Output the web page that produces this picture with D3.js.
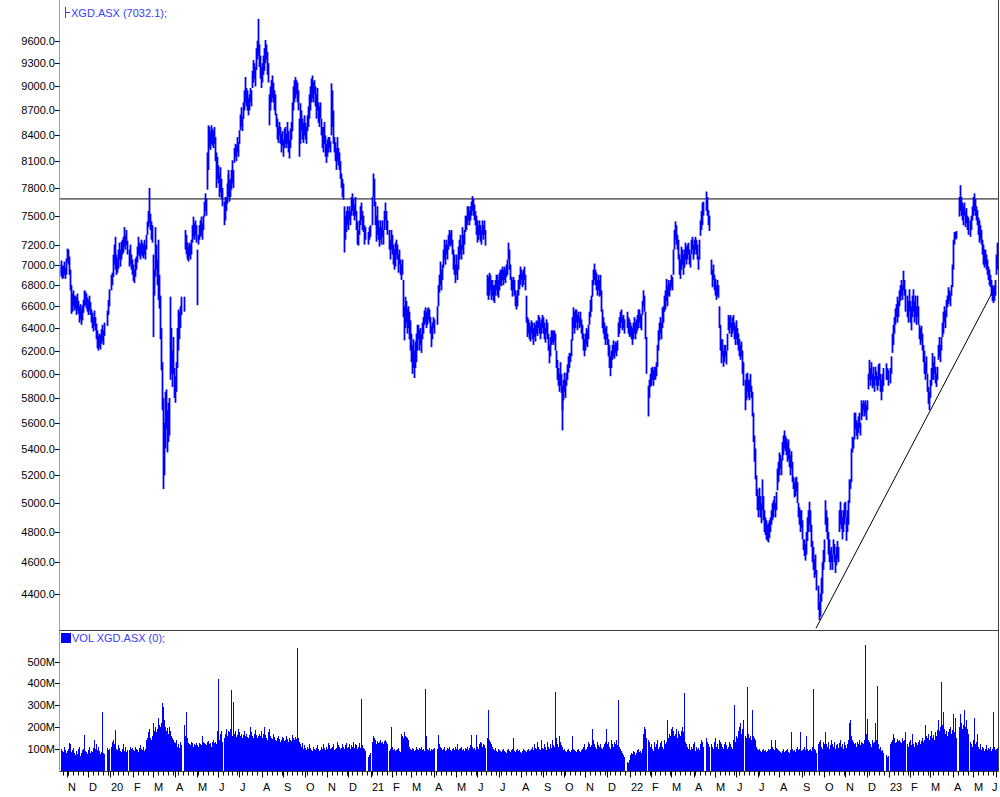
<!DOCTYPE html>
<html><head><meta charset="utf-8">
<script src="https://cdn.jsdelivr.net/npm/d3@7/dist/d3.min.js"></script>
<style>
body{margin:0;background:#fff;}
svg text{font-family:"Liberation Sans",Arial,sans-serif;}
</style></head>
<body><svg id="chart" width="1000" height="797"></svg>
<script>
// ---------- DATA ----------
const firstDay = "2019-10-23";   // first weekday on the time axis
const lastDay  = "2023-06-02";   // last weekday on the time axis
const symbol = "XGD.ASX";
const lastClose = 7032.1;

// daily low / high (null = market holiday), one entry per weekday
const priceLow = [
6880,6900,6860,6870,6900,6860,6900,7030,7000,6900,
6750,6530,6550,6600,6560,6580,6520,6560,6530,6450,
6480,6430,6470,6540,6600,6610,6580,6550,6520,6560,
6520,6450,6400,6370,6420,6380,6300,6220,6200,6230,
6210,6260,6280,6250,6330,null,null,6420,6520,6600,
null,6750,6800,6880,7000,6950,6900,6920,6960,7050,
6980,7050,7100,7120,7180,7150,7200,7100,null,6980,
7000,6950,6900,6840,6820,6880,6950,7020,7100,7080,
7050,7100,7080,7060,7100,7050,7150,7300,7380,7420,
7350,7250,7220,6320,6700,6880,6950,6800,6660,6580,
6300,6030,5700,5100,5200,5400,5550,5370,5450,5500,
5950,6000,5890,6000,5800,5760,5850,6050,6200,6300,
6400,6520,null,null,6550,7150,7100,7050,7030,7080,
7050,7100,7220,7280,7250,7300,7220,6610,7200,7250,
7280,7300,7250,7350,7490,7550,7500,7780,8000,8250,
8230,8300,8280,8250,8300,8100,7800,7900,7850,7700,
7750,7680,7600,null,7400,7450,7550,7630,7700,7750,
7650,7700,7780,7850,7800,8080,8150,8100,8200,8150,
8300,8460,8500,8450,8600,8700,8800,8750,8700,8640,
8700,8800,8750,8980,9050,9100,9000,9210,9350,9400,
9250,9100,8980,9050,9150,9200,9300,9350,9150,9050,
8520,8700,8800,8850,8800,8700,8640,8500,8350,8310,
8400,8300,8200,8280,8150,8250,8300,8250,8300,8200,
8130,8250,8350,8450,8700,8800,8850,8900,8800,8700,
8150,8300,8450,8350,8310,8400,8350,8300,8450,8500,
8600,8700,8800,8850,8800,8900,8750,8600,8700,8550,
8500,8600,8400,8250,8200,8300,8150,8080,8150,8200,
8250,8200,8400,8500,8300,8200,8100,8000,8100,8050,
8000,7900,7800,7700,7670,7120,7250,7330,7400,7350,
7450,7400,7500,7550,7500,7450,7500,7350,7200,7190,
7300,7400,7450,7350,7330,7200,7250,null,null,7200,
7250,7280,null,7400,7700,7600,7400,7230,7300,7250,
7180,7250,7200,7280,7200,7350,7450,7350,7300,null,
7150,7050,7150,7100,7000,6950,7050,6980,7100,7050,
6920,7000,6900,6850,6900,6500,6290,6400,6450,6350,
6400,6300,6200,6100,6000,6050,5965,6050,6100,6200,
6300,6200,6250,6180,6300,6350,6430,6450,6400,6430,
6480,6450,6350,6230,6300,6400,6350,null,null,6430,
6600,6730,6800,6750,6850,6970,7050,7000,7100,7050,
7150,7200,7180,7200,7100,6950,6900,6820,6900,6850,
6950,7050,7100,7050,7150,7100,7200,7330,7350,7400,
7450,7400,7450,7500,7550,7500,7450,7400,7300,7220,
7250,7300,7230,7200,7300,7250,7300,7190,null,6700,
6660,6700,6750,6660,6700,6650,6630,6700,6750,6700,
6680,6750,6800,6790,6850,6800,6850,6820,6880,6900,
7050,6950,6850,6750,6690,6750,6700,6600,6570,6600,
6700,6760,6800,6850,6780,6800,6850,6750,6450,6320,
6350,6300,6280,6350,6300,6250,6320,6280,6350,6330,
6400,6350,6300,6350,6400,6350,6300,6270,6350,6300,
6200,6090,6150,6250,6270,6250,6280,6200,6050,5950,
5900,5850,5900,5840,5700,5540,5780,5850,5800,5900,
5950,6010,6050,6100,6150,6290,6400,6350,6400,6450,
6380,6450,6400,6420,6350,6300,6200,6150,6200,6250,
6230,6300,6430,6500,6550,6690,6800,6850,6800,6750,
6700,6750,6690,6700,6550,6400,6350,6300,6250,6300,
6250,6150,6050,5980,6050,6120,6150,6130,6180,6150,
6200,6320,6350,6400,6450,6380,6400,6350,null,null,
6400,6350,6320,6330,6300,6250,6300,6350,6300,6350,
6380,6400,6450,6400,6380,6520,6600,6550,6300,6000,
null,5650,5800,5890,5900,5950,5900,5950,5950,5980,
6060,6200,6290,6350,6300,6400,6450,6550,6570,6650,
6600,6700,6690,6750,6780,6750,6900,7150,7250,7200,
7150,7050,6900,6860,6950,7000,6900,6970,7050,7000,
7050,7100,7000,6970,7100,7150,7050,7100,7150,7100,
7050,6950,7050,7290,7350,7400,7500,null,null,7550,
7500,7400,7340,null,6900,6780,6850,6750,6700,6660,
6700,6680,6400,6200,6090,6150,6060,6100,6150,6080,
6200,6380,6400,6350,6400,6320,6350,6380,6300,6250,
6300,6250,6200,6150,6120,6150,6000,5900,null,5700,
5780,5850,5800,5780,5850,5800,5650,5450,5300,5170,
5050,4950,4900,4950,4900,4860,4950,4880,4800,4780,
4750,4740,4730,4760,4800,4850,4880,4900,4950,4900,
4950,5090,5150,5200,5250,5200,5310,5350,5400,5380,
5350,5300,5320,5260,5200,5250,5150,5100,5040,5050,
5080,5000,4900,4850,4800,4830,4750,4680,4640,4610,
4650,4740,4800,4850,4800,4700,4600,4550,4500,4520,
4420,null,4300,4240,4260,4350,4400,4550,4600,4850,
4800,4750,4650,4600,4550,4600,4550,4650,4600,4530,
4580,4620,4600,4800,4850,4820,4750,4800,4850,4900,
4740,4800,4850,5000,5100,5150,5370,5400,5470,5550,
5500,5470,5520,5560,5500,5620,5650,5700,5650,5680,
5620,5700,5870,5950,5900,5950,5880,5900,5850,5950,
5900,5860,5900,5950,5850,5780,5850,5900,null,null,
5950,5950,5900,null,5920,6000,6180,6250,6350,6430,
6500,6450,6550,6500,6600,6650,6700,6660,6750,6700,
6550,null,6500,6450,6550,6450,6380,6500,6550,6450,
6500,6430,6500,6430,6300,6250,6280,6200,6100,6000,
5950,6000,5850,5750,5700,5800,5900,5950,5950,6000,
5920,5890,5950,6120,6150,6100,6200,6320,6350,6450,
6400,6500,6590,6620,6650,6600,6700,6780,6950,7200,
7250,7260,null,null,7490,7550,7500,7450,7400,7500,
7380,7420,7350,7300,null,7280,7350,7450,7500,7550,
7500,7450,7400,7300,7220,7250,7200,7100,7000,6970,
7000,6950,6900,6850,6800,6780,6700,6650,6630,6650,
6700,6900,6950];

const priceHigh = [
7000,7040,6980,6990,7030,6970,7060,7160,7150,7080,
6950,6800,6720,6750,6700,6700,6680,6720,6650,6600,
6620,6580,6610,6660,6750,6740,6720,6680,6660,6700,
6640,6570,6540,6500,6560,6500,6440,6380,6330,6350,
6340,6390,6430,6380,6450,null,null,6560,6660,6760,
null,6900,6920,7100,7200,7280,7100,7060,7150,7220,
7150,7230,7250,7280,7380,7300,7350,7240,null,7150,
7200,7100,7050,7000,6950,7060,7080,7180,7280,7220,
7200,7250,7220,7200,7250,7200,7300,7440,7550,7800,
7520,7440,7400,7100,6950,7380,7200,7050,7250,6900,
6700,6400,6100,5800,5600,5850,5870,5700,5760,5800,
6690,6400,6200,6320,6050,5980,6100,6400,6570,6550,
6600,6690,null,null,6690,7350,7300,7220,7180,7220,
7200,7250,7400,7490,7420,7450,7400,7150,7300,7400,
7450,7490,7420,7500,7650,7740,7680,8200,8520,8500,
8450,8520,8480,8450,8500,8380,8200,8150,8050,7950,
8030,7900,7800,null,7650,7700,7700,7850,7950,8000,
7880,7900,8000,8110,8000,8250,8300,8280,8380,8320,
8460,8650,8740,8620,8800,8950,9120,8980,8950,8850,
8900,8980,8950,9200,9340,9300,9250,9500,9600,9900,
9550,9400,9250,9300,9400,9500,9610,9550,9450,9300,
8900,9000,9080,9140,9050,8950,8900,8660,8600,8500,
8560,8500,8420,8450,8350,8480,8500,8420,8560,8450,
8350,8480,8560,8800,9000,9080,9120,9080,9050,8950,
8600,8790,8700,8600,8550,8640,8550,8500,8640,8750,
8900,9000,9100,9140,9050,9080,9000,8900,8980,8800,
8750,8800,8600,8500,8500,8560,8400,8300,8350,8380,
8380,8330,9040,8950,8700,8380,8320,8250,8380,8250,
8200,8100,7960,7900,7850,7600,7500,7550,7600,7550,
7600,7550,7700,7740,7680,7620,7700,7550,7440,7350,
7450,7600,7640,7550,7500,7400,7380,null,null,7330,
7380,7400,null,7700,7960,7900,7650,7500,7600,7450,
7380,7450,7380,7450,7350,7550,7640,7550,7450,null,
7350,7250,7350,7300,7200,7150,7220,7150,7250,7200,
7100,7150,7050,7000,7050,6850,6600,6690,6650,6580,
6600,6550,6470,6350,6250,6300,6200,6280,6350,6430,
6430,6380,6400,6350,6450,6500,6560,6590,6550,6580,
6590,6570,6500,6420,6450,6500,6480,null,null,6600,
6800,6900,7030,6950,7000,7150,7250,7200,7250,7200,
7300,7350,7320,7350,7250,7150,7100,7000,7100,7000,
7180,7250,7300,7200,7380,7300,7350,7500,7500,7600,
7600,7550,7600,7650,7710,7680,7620,7550,7500,7450,
7400,7450,7400,7350,7450,7400,7450,7350,null,6900,
6880,6920,6900,6850,6850,6800,6800,6850,6900,6900,
6850,6920,6950,6950,6980,6950,6980,6950,7000,7050,
7220,7150,7000,6880,6850,6880,6850,6750,6700,6750,
6850,6900,6980,6950,6920,6950,6980,6900,6700,6500,
6480,6450,6420,6470,6450,6400,6450,6430,6470,6460,
6520,6500,6450,6480,6520,6500,6450,6400,6480,6450,
6350,6250,6320,6380,6380,6370,6380,6350,6200,6120,
6050,6000,6100,6000,5900,5840,5950,6010,5950,6010,
6080,6150,6180,6180,6300,6500,6590,6550,6570,6570,
6520,6550,6500,6550,6480,6430,6350,6300,6350,6400,
6380,6430,6550,6660,6700,6850,6950,7010,6950,6920,
6850,6900,6850,6900,6750,6570,6500,6450,6400,6420,
6350,6300,6250,6150,6200,6250,6290,6250,6280,6270,
6290,6450,6500,6550,6570,6500,6520,6480,null,null,
6550,6500,6480,6450,6420,6400,6450,6500,6450,6480,
6520,6570,6570,6530,6520,6650,6750,6700,6550,6320,
null,5900,5950,6000,6050,6060,6030,6060,6060,6100,
6250,6380,6450,6500,6450,6590,6600,6700,6750,6860,
6800,6850,6820,6850,6900,6880,7150,7350,7440,7400,
7300,7250,7100,7050,7180,7150,7100,7150,7220,7180,
7200,7220,7150,7100,7250,7280,7200,7250,7280,7250,
7200,7080,7250,7450,7550,7640,7650,null,null,7760,
7700,7560,7500,null,7050,6950,7000,6900,6860,6800,
6850,6800,6600,6430,6300,6300,6200,6250,6250,6200,
6350,6520,6500,6480,6520,6450,6500,6520,6450,6420,
6470,6400,6350,6300,6250,6280,6200,6100,null,5950,
6000,6010,5950,5950,6000,5900,5850,5680,5500,5400,
5200,5100,5050,5110,5050,5000,5170,5050,4950,4900,
4880,4850,4860,4880,4900,4950,5000,5020,5050,5000,
5080,5250,5300,5370,5350,5320,5450,5500,5540,5500,
5480,5450,5470,5400,5350,5380,5300,5190,5150,5180,
5190,5150,5000,4970,4950,4950,4880,4750,4750,4720,
4800,4900,4950,5010,4950,4850,4740,4700,4620,4650,
4550,null,4450,4350,4400,4500,4600,4680,4750,5020,
4950,4900,4800,4750,4680,4700,4650,4750,4720,4650,
4700,4740,4700,4950,5010,4950,4900,4950,5000,5010,
4900,4950,5020,5170,5170,5400,5490,5480,5680,5680,
5620,5600,5650,5680,5600,5780,5750,5780,5760,5780,
5740,5780,6000,6120,6050,6100,6000,6060,5980,6060,
6020,5980,6080,6090,6000,5950,6000,6050,null,null,
6090,6050,6030,null,6050,6150,6350,6430,6500,6580,
6620,6600,6690,6650,6750,6800,6850,6800,6940,6850,
6760,null,6700,6650,6760,6650,6600,6700,6760,6650,
6700,6600,6700,6600,6430,6400,6420,6350,6250,6200,
6100,6150,6000,5890,5850,5950,6050,6180,6100,6150,
6060,6000,6060,6250,6320,6250,6320,6450,6550,6600,
6560,6660,6700,6780,6750,6720,6800,7000,7250,7330,
7330,7340,null,null,7700,7830,7700,7640,7600,7640,
7550,7580,7500,7480,null,7450,7500,7600,7700,7740,
7680,7600,7560,7480,7450,7400,7350,7250,7200,7150,
7150,7100,7050,6980,6950,6900,6850,6800,6780,6800,
6850,7100,7220];

// daily volume in millions (0 = market holiday)
const volumeM = [
95,100,90,85,110,95,80,90,100,125,120,85,95,105,80,70,90,75,100,110,
65,80,95,100,163,90,85,75,95,110,80,90,85,105,140,100,120,95,110,88,
75,85,270,80,75,0,0,105,95,98,
0,
110,130,140,120,185,100,95,115,105,90,85,100,120,90,110,85,95,
0,
95,110,100,105,95,90,110,100,95,85,105,115,100,95,110,90,100,140,150,175,190,150,140,160,
220,180,200,175,190,240,210,200,220,309,290,230,200,180,195,170,200,180,160,150,140,130,125,140,110,120,105,130,115,
0,0,
210,160,270,150,125,120,115,130,125,110,120,118,125,115,110,125,120,115,160,130,125,120,115,130,135,120,125,110,130,140,125,130,120,180,420,140,170,180,130,
0,
150,170,190,160,180,155,175,190,370,160,315,170,180,155,165,190,175,160,170,150,165,180,160,170,155,150,165,200,175,160,150,170,185,165,150,160,170,
160,180,150,170,200,165,150,140,175,190,160,150,145,170,155,140,135,150,160,145,130,140,155,150,135,140,160,145,130,150,140,135,165,150,140,155,145,565,150,130,
120,110,125,100,115,105,95,110,100,120,105,95,90,110,100,95,105,115,100,90,95,110,100,120,105,95,110,100,125,115,100,105,110,120,95,100,105,130,115,110,100,105,120,110,100,115,125,105,110,120,100,115,110,130,105,120,115,100,110,125,105,330,115,105,100,90,
0,0,
60,70,80,
0,
130,160,150,140,120,135,125,130,140,125,130,120,135,140,130,120,
0,
90,100,200,110,95,100,90,85,95,100,105,90,85,170,160,150,175,160,155,150,140,110,100,95,105,100,90,95,110,100,
95,105,100,110,95,100,90,375,160,100,95,105,90,100,95,100,105,
0,0,
100,165,120,110,105,95,100,110,90,95,105,100,110,95,90,100,105,95,110,100,120,95,100,105,110,95,100,90,105,100,110,95,105,115,165,110,100,105,95,165,110,100,120,130,125,110,120,115,105,
0,
150,278,140,130,120,110,100,95,105,90,85,100,95,90,85,95,100,90,85,80,95,100,90,85,95,100,150,90,85,95,100,90,95,85,80,90,100,95,90,85,95,100,90,95,
100,110,95,120,105,100,130,110,100,95,140,105,100,120,110,95,130,110,100,120,105,140,115,110,
363,
150,120,110,160,130,115,100,110,95,100,90,85,95,100,90,85,95,
160,
100,95,90,85,95,100,90,85,95,100,110,120,95,100,110,130,120,110,115,
190,
140,120,110,100,130,115,110,120,105,100,110,120,130,
190,
120,130,110,100,140,120,110,130,120,140,115,
325,
110,100,90,80,70,60,
0,0,
40,35,50,
70,80,75,90,85,70,80,95,100,85,90,80,100,170,200,190,150,
0,
140,130,110,120,100,90,130,110,120,140,100,110,125,135,110,100,140,120,130,
230,
150,170,160,190,200,180,160,170,190,150,180,170,160,180,200,175,
355,
130,120,110,100,120,95,110,100,120,130,90,110,100,105,95,120,140,130,110,
0,0,
150,130,120,110,
0,
120,110,100,130,150,110,120,100,140,130,120,110,100,120,130,115,100,110,125,130,120,110,100,140,300,
130,160,150,180,200,220,170,190,230,
0,
160,150,
383,
170,150,160,140,
278,
160,150,140,110,100,95,100,90,
85,95,100,90,95,85,90,100,
95,100,140,110,100,95,140,105,
100,95,90,85,80,90,100,85,
90,95,100,85,80,95,175,100,
90,95,85,100,110,95,100,175,
90,95,100,110,95,160,100,90,
95,100,90,110,375,100,95,80,
0,
120,130,140,110,100,130,120,175,
120,110,130,100,115,140,120,110,
130,100,115,120,105,125,140,110,
120,100,130,115,105,120,140,220,
230,160,140,130,120,125,110,130,
120,140,115,130,125,120,140,578,
170,235,140,130,120,110,140,125,
130,218,140,390,120,100,110,90,
95,80,
0,0,
70,60,65,
0,
120,130,140,170,150,125,130,145,120,135,140,130,125,150,135,140,175,
0,
120,110,130,140,115,170,120,110,130,125,
115,130,140,120,135,150,130,140,211,160,
150,170,140,160,180,150,165,140,175,160,
185,230,180,200,407,210,270,190,170,180,
160,175,190,200,170,185,260,175,240,150,
0,0,
200,260,220,190,210,280,200,230,190,170,
0,
130,120,110,140,243,120,130,170,110,100,120,95,110,105,90,100,115,95,105,100,110,90,100,267,110,95,100,105];

const priceTicks  = [9600,9300,9000,8700,8400,8100,7800,7500,7200,7000,6800,6600,6400,6200,6000,5800,5600,5400,5200,5000,4800,4600,4400];
const volumeTicks = [100,200,300,400,500];          // millions
const monthLetters = ["J","F","M","A","M","J","J","A","S","O","N","D"];
const resistanceLevel = 7680;
const trendDates  = ["2022-09-21","2023-05-26"];
const trendValues = [4190, 6725];

// ---------- LAYOUT ----------
const svg = d3.select("#chart");
const L = 59.5, R = 998.5;
const priceBottom = 630.5, volBottom = 771.5;

// weekday calendar
const parse = d3.utcParse("%Y-%m-%d");
const days = d3.utcDays(parse(firstDay), d3.utcDay.offset(parse(lastDay), 1))
  .filter(d => d.getUTCDay() !== 0 && d.getUTCDay() !== 6);
const N = days.length;
const dayIndex = new Map(days.map((d, i) => [+d, i]));

const x = d3.scaleLinear().domain([0, N - 1]).range([60.5, 996.9]);
const yP = d3.scaleLog().domain([4400, 9600]).range([593.7, 40.7]);
const yV = d3.scaleLinear().domain([0, 500]).range([770.5, 661.7]);

const g = svg.append("g");

// frame lines
g.append("line").attr("x1", L).attr("x2", L).attr("y1", 0).attr("y2", volBottom)
  .attr("stroke", "#a0a0a0").attr("stroke-width", 1);
g.append("line").attr("x1", R).attr("x2", R).attr("y1", 0).attr("y2", volBottom)
  .attr("stroke", "#404040").attr("stroke-width", 1);
g.append("line").attr("x1", L).attr("x2", R).attr("y1", priceBottom).attr("y2", priceBottom)
  .attr("stroke", "#404040").attr("stroke-width", 1);

// price axis
const pAxis = g.append("g");
priceTicks.forEach(v => {
  const yy = yP(v);
  pAxis.append("line").attr("x1", 55).attr("x2", L).attr("y1", Math.round(yy) + 0.5).attr("y2", Math.round(yy) + 0.5)
    .attr("stroke", "#000");
  pAxis.append("text").attr("x", 55).attr("y", yy + 4).attr("text-anchor", "end")
    .attr("font-size", 11).attr("fill", "#000").text(d3.format(".1f")(v));
});

// volume axis
const vAxis = g.append("g");
volumeTicks.forEach(v => {
  const yy = yV(v);
  vAxis.append("line").attr("x1", 55).attr("x2", L).attr("y1", Math.round(yy) + 0.5).attr("y2", Math.round(yy) + 0.5)
    .attr("stroke", "#000");
  vAxis.append("text").attr("x", 55).attr("y", yy + 4).attr("text-anchor", "end")
    .attr("font-size", 11).attr("fill", "#000").text(v + "M");
});

// time axis
g.append("line").attr("x1", L).attr("x2", R).attr("y1", volBottom).attr("y2", volBottom)
  .attr("stroke", "#404040");
const tAxis = g.append("g");
days.forEach((d, i) => {
  const xx = Math.round(x(i)) + 0.5;
  const prev = i > 0 ? days[i - 1] : null;
  const monthStart = prev && prev.getUTCMonth() !== d.getUTCMonth();
  if (d.getUTCDay() === 1 || monthStart) {
    tAxis.append("line").attr("x1", xx).attr("x2", xx).attr("y1", volBottom)
      .attr("y2", volBottom + (monthStart ? 6 : 4)).attr("stroke", "#000");
  }
  if (monthStart) {
    const m = d.getUTCMonth();
    const lab = m === 0 ? d3.utcFormat("%y")(d) : monthLetters[m];
    const t = tAxis.append("text").attr("x", xx + 0.5).attr("y", 791).attr("font-size", 11)
      .attr("fill", "#000").text(lab);
    if (xx + 8 > R) t.attr("x", R - 1).attr("text-anchor", "end");
  }
});

// resistance line
g.append("line").attr("x1", L).attr("x2", R).attr("y1", yP(resistanceLevel)).attr("y2", yP(resistanceLevel))
  .attr("stroke", "#707070").attr("stroke-width", 1.6);

// price bars
const bars = g.append("g").attr("stroke", "#0000ff").attr("stroke-width", 1.8);
priceHigh.forEach((hi, i) => {
  const lo = priceLow[i];
  if (hi == null || lo == null) return;
  const xx = Math.round(x(i)) + 0.5;
  bars.append("line").attr("x1", xx).attr("x2", xx).attr("y1", yP(hi)).attr("y2", yP(lo));
});

// trendline
const tIdx = trendDates.map(s => dayIndex.get(+parse(s)));
g.append("line").attr("x1", x(tIdx[0])).attr("y1", yP(trendValues[0]))
  .attr("x2", x(tIdx[1])).attr("y2", yP(trendValues[1]))
  .attr("stroke", "#000").attr("stroke-width", 1);

// volume bars
const vb = g.append("g").attr("fill", "#0000ff").attr("shape-rendering", "crispEdges");
volumeM.forEach((v, i) => {
  if (!v) return;
  const x0 = Math.round(x(i)), x1 = Math.round(x(i + 1));
  vb.append("rect").attr("x", x0).attr("width", Math.max(1, x1 - x0))
    .attr("y", yV(v)).attr("height", yV(0) - yV(v));
});

// titles
const titleColor = "#3a3aff";
g.append("path").attr("d", "M65.5,7V18M65.5,12.5H70").attr("stroke", titleColor).attr("fill", "none");
g.append("text").attr("x", 71).attr("y", 17).attr("font-size", 11).attr("fill", titleColor)
  .text(`${symbol} (${d3.format(".1f")(lastClose)});`);
g.append("rect").attr("x", 61).attr("y", 633).attr("width", 10).attr("height", 10).attr("fill", "#0000ff");
g.append("text").attr("x", 72).attr("y", 642).attr("font-size", 11).attr("fill", titleColor)
  .text(`VOL ${symbol} (0);`);
</script>
</body></html>
